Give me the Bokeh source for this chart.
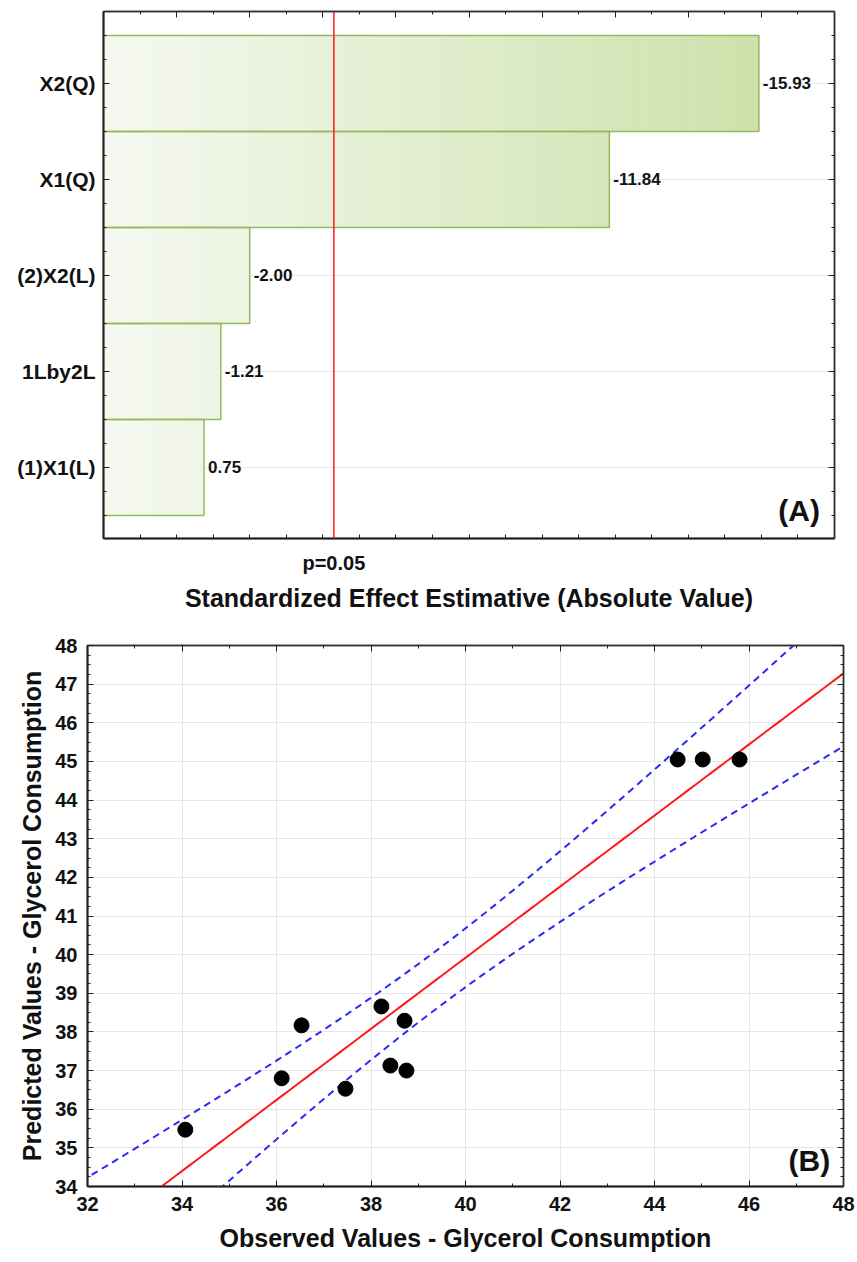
import numpy as np
from bokeh.plotting import figure
from bokeh.models import FixedTicker, LinearAxis, Span, Label, ColumnDataSource, Range1d
from bokeh.core.properties import value
from bokeh.embed import file_html
from bokeh.resources import INLINE

FONT = "Liberation Sans"

# ---------------- data ----------------
factors = ["X2(Q)", "X1(Q)", "(2)X2(L)", "1Lby2L", "(1)X1(L)"]
effects = [-15.93, -11.84, -2.00, -1.21, 0.75]
p_crit = 4.303
p_label = "p=0.05"
x_axis_min = -2
x_axis_max = 18

observed = [34.07, 36.11, 36.53, 37.46, 38.22, 38.41, 38.71, 38.75, 44.49, 45.02, 45.80]
predicted = [35.47, 36.80, 38.17, 36.53, 38.66, 37.13, 38.29, 37.00, 45.05, 45.05, 45.05]
t_95 = 2.262

W = 857


def style_axis(ax, label_size="20px"):
    ax.axis_line_color = "#222222"
    ax.axis_line_width = 2
    ax.major_tick_line_color = "#222222"
    ax.minor_tick_line_color = "#222222"
    ax.major_tick_in = 6
    ax.major_tick_out = 0
    ax.minor_tick_in = 3
    ax.minor_tick_out = 0
    ax.major_label_text_font = FONT
    ax.major_label_text_font_style = "bold"
    ax.major_label_text_font_size = label_size
    ax.major_label_text_color = "#111111"
    ax.axis_label_text_font = FONT
    ax.axis_label_text_font_style = "bold"
    ax.axis_label_text_font_size = "25px"
    ax.axis_label_text_color = "#111111"


def blank_axis(ticker):
    ax = LinearAxis(ticker=ticker)
    style_axis(ax, "1px")
    ax.major_label_text_color = None
    ax.major_label_standoff = 0
    ax.axis_line_width = 1.5
    ax.axis_line_color = "#333333"
    return ax


# ---------------- (A) Pareto chart ----------------
n = len(factors)
ypos = [n - i for i in range(n)]
absval = [abs(v) for v in effects]

p1 = figure(width=W, height=615, x_range=Range1d(x_axis_min, x_axis_max),
            y_range=Range1d(0.26, 5.75), output_backend="svg", toolbar_location=None,
            min_border_left=103, min_border_right=23, min_border_top=11, min_border_bottom=77)
p1.outline_line_color = "#333333"
p1.outline_line_width = 1.5
p1.xgrid.visible = False
p1.ygrid.grid_line_color = "#e9e9e9"

c0 = np.array([246, 249, 241])
c1 = np.array([205, 226, 172])
step = 0.1
sl, sr, sb, st, sc = [], [], [], [], []
for y, v in zip(ypos, absval):
    edges = np.arange(x_axis_min, v, step)
    for xl in edges:
        xr = min(xl + step, v)
        t = ((xl + xr) / 2 - x_axis_min) / (16 - x_axis_min)
        col = (c0 + (c1 - c0) * t).astype(int)
        sl.append(xl); sr.append(xr); sb.append(y - 0.5); st.append(y + 0.5)
        sc.append("#%02x%02x%02x" % tuple(col))
p1.quad(left=sl, right=sr, bottom=sb, top=st, fill_color=sc, line_color=sc, line_width=0.8)
p1.quad(left=[x_axis_min] * n, right=absval, bottom=[y - 0.5 for y in ypos],
        top=[y + 0.5 for y in ypos], fill_color=None, line_color="#93bb5e", line_width=1.5)

src = ColumnDataSource(dict(x=absval, y=ypos, t=["%.2f" % v for v in effects]))
p1.text(x="x", y="y", text="t", source=src, x_offset=4, text_baseline="middle",
        text_align="left", text_font_size="17px", text_font_style="bold",
        text_font=value(FONT), text_color="#111111")

p1.add_layout(Span(location=p_crit, dimension="height", line_color="#ff1a1a", line_width=1.5))

yticker = FixedTicker(ticks=ypos, minor_ticks=list(np.arange(0.5, 5.51, 0.25)))
xb_ticker = FixedTicker(ticks=[p_crit], minor_ticks=list(range(x_axis_min, x_axis_max + 1)))
xt_ticker = FixedTicker(ticks=list(range(x_axis_min, x_axis_max + 1, 2)),
                        minor_ticks=list(range(x_axis_min, x_axis_max + 1)))

ya = p1.yaxis[0]
ya.ticker = yticker
style_axis(ya, "21px")
ya.major_label_overrides = {y: f for y, f in zip(ypos, factors)}
ya.major_label_standoff = 8
p1.ygrid.ticker = yticker

xa = p1.xaxis[0]
xa.ticker = xb_ticker
style_axis(xa, "20px")
xa.major_tick_in = 0
xa.minor_tick_in = 4
xa.major_label_overrides = {p_crit: p_label}
xa.major_label_standoff = 13
xa.axis_label = "Standardized Effect Estimative (Absolute Value)"
xa.axis_label_standoff = 7

p1.add_layout(blank_axis(xt_ticker), "above")
p1.add_layout(blank_axis(yticker), "right")

p1.add_layout(Label(x=17.6, y=0.55, text="(A)", text_align="right", text_baseline="middle",
                    text_font=FONT, text_font_style="bold", text_font_size="30px",
                    text_color="#111111"))

# ---------------- (B) Observed vs predicted ----------------
obs = np.array(observed)
pred = np.array(predicted)
slope, intercept = np.polyfit(obs, pred, 1)
resid = pred - (slope * obs + intercept)
s = np.sqrt(np.sum(resid ** 2) / (len(obs) - 2))
xbar = obs.mean()
sxx = np.sum((obs - xbar) ** 2)

p2 = figure(width=W, height=647, x_range=Range1d(32, 48), y_range=Range1d(34, 48),
            output_backend="svg", toolbar_location=None,
            min_border_left=87, min_border_right=14, min_border_top=30, min_border_bottom=76)
p2.outline_line_color = "#333333"
p2.outline_line_width = 1.5

bx_ticker = FixedTicker(ticks=list(range(32, 49, 2)), minor_ticks=list(range(32, 49)))
by_ticker = FixedTicker(ticks=list(range(34, 49)), minor_ticks=list(np.arange(34, 48.01, 0.25)))

p2.xgrid.ticker = bx_ticker
p2.ygrid.ticker = by_ticker
p2.grid.grid_line_color = "#e6e6e6"
p2.grid.grid_line_width = 1

bxa = p2.xaxis[0]
bxa.ticker = bx_ticker
style_axis(bxa, "20px")
bxa.major_label_standoff = 10
bxa.axis_label = "Observed Values - Glycerol Consumption"
bxa.axis_label_standoff = 10

bya = p2.yaxis[0]
bya.ticker = by_ticker
style_axis(bya, "20px")
bya.major_label_standoff = 10
bya.axis_label = "Predicted Values - Glycerol Consumption"
bya.axis_label_standoff = 6

p2.add_layout(blank_axis(bx_ticker), "above")
p2.add_layout(blank_axis(by_ticker), "right")

xs = np.linspace(31, 49, 200)
fit = slope * xs + intercept
se = s * np.sqrt(1.0 / len(obs) + (xs - xbar) ** 2 / sxx)
p2.line(xs, fit, line_color="#ff1a1a", line_width=2)
p2.line(xs, fit + t_95 * se, line_color="#2a2af5", line_width=2, line_dash="7 5")
p2.line(xs, fit - t_95 * se, line_color="#2a2af5", line_width=2, line_dash="7 5")

p2.scatter(observed, predicted, size=15, color="black")

p2.add_layout(Label(x=47.72, y=34.67, text="(B)", text_align="right", text_baseline="middle",
                    text_font=FONT, text_font_style="bold", text_font_size="30px",
                    text_color="#111111"))

open("out.html", "w").write(file_html([p1, p2], INLINE))
